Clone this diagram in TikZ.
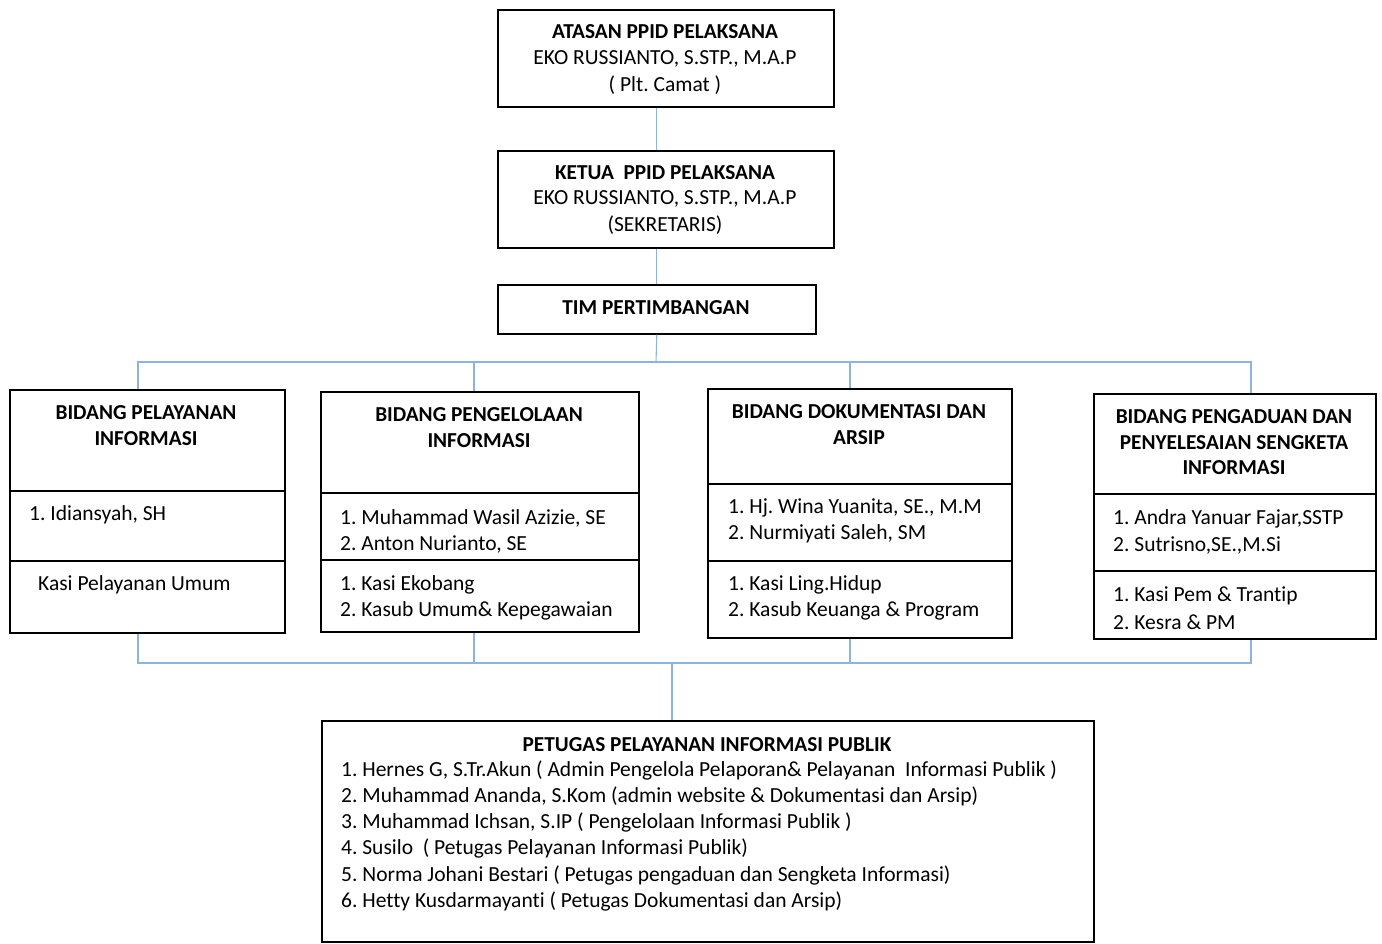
\documentclass[tikz,border=0pt]{standalone}
\usepackage{fontspec}
\setmainfont[Ligatures=NoCommon]{Carlito}
\definecolor{linkblue}{RGB}{141,179,226}
\frenchspacing
\begin{document}
\begin{tikzpicture}[x=1pt,y=-1pt,
  box/.style={draw=black,line width=1.6pt,inner sep=0,anchor=north west},
  divider/.style={draw=black,line width=1.6pt},
  conn/.style={draw=linkblue,line width=1.1pt},
  lbl/.style={font=\fontsize{21.5}{26}\selectfont,inner sep=0,anchor=west},
  ttl/.style={font=\fontsize{21.3}{26}\selectfont\bfseries,inner sep=0,anchor=center},
  ctr/.style={font=\fontsize{21.5}{26}\selectfont,inner sep=0,anchor=center}]
\useasboundingbox[fill=white] (0,0) rectangle (1382,943);
% boxes
\node[box,minimum width=336pt,minimum height=97pt] (atasan) at (497,9) {};
\node[box,minimum width=336pt,minimum height=97pt] (ketua) at (497,150) {};
\node[box,minimum width=318pt,minimum height=49pt] (tim) at (497,284) {};
\node[box,minimum width=275pt,minimum height=243pt] (b1) at (9,389) {};
\node[box,minimum width=318pt,minimum height=240pt] (b2) at (320,391) {};
\node[box,minimum width=304pt,minimum height=249pt] (b3) at (707,388) {};
\node[box,minimum width=282pt,minimum height=245pt] (b4) at (1093,393) {};
\node[box,minimum width=772pt,minimum height=221pt] (pub) at (321,720) {};
% dividers
\draw[divider] (b1.west |- 0,491) -- (b1.east |- 0,491);
\draw[divider] (b1.west |- 0,561) -- (b1.east |- 0,561);
\draw[divider] (b2.west |- 0,493) -- (b2.east |- 0,493);
\draw[divider] (b2.west |- 0,560) -- (b2.east |- 0,560);
\draw[divider] (b3.west |- 0,484) -- (b3.east |- 0,484);
\draw[divider] (b3.west |- 0,561) -- (b3.east |- 0,561);
\draw[divider] (b4.west |- 0,494) -- (b4.east |- 0,494);
\draw[divider] (b4.west |- 0,571) -- (b4.east |- 0,571);
% texts top
\node[ttl] (a1) at (665,32) {ATASAN PPID PELAKSANA};
\node[ctr] (a2) at (665,59) {EKO RUSSIANTO, S.STP., M.A.P};
\node[ctr] (a3) at (665,85) {( Plt. Camat )};
\node[ttl] (k1) at (665,173) {KETUA\ \ PPID PELAKSANA};
\node[ctr] (k2) at (665,199) {EKO RUSSIANTO, S.STP., M.A.P};
\node[ctr] (k3) at (665,225) {(SEKRETARIS)};
\node[ttl] (t1) at (656,308) {TIM PERTIMBANGAN};
% box 1
\node[ttl] (b1t1) at (146,413) {BIDANG PELAYANAN};
\node[ttl] (b1t2) at (146,439) {INFORMASI};
\node[lbl] (b1a) at (29,515) {1. Idiansyah, SH};
\node[lbl] (b1b) at (38,585) {Kasi Pelayanan Umum};
% box 2
\node[ttl] (b2t1) at (479,415) {BIDANG PENGELOLAAN};
\node[ttl] (b2t2) at (479,441) {INFORMASI};
\node[lbl] (b2a) at (340,518) {1. Muhammad Wasil Azizie, SE};
\node[lbl] (b2b) at (340,544) {2. Anton Nurianto, SE};
\node[lbl] (b2c) at (340,585) {1. Kasi Ekobang};
\node[lbl] (b2d) at (340,611) {2. Kasub Umum\& Kepegawaian};
% box 3
\node[ttl] (b3t1) at (859,412) {BIDANG DOKUMENTASI DAN};
\node[ttl] (b3t2) at (859,438) {ARSIP};
\node[lbl] (b3a) at (728,508) {1. Hj. Wina Yuanita, SE., M.M};
\node[lbl] (b3b) at (728,534) {2. Nurmiyati Saleh, SM};
\node[lbl] (b3c) at (728,585) {1. Kasi Ling.Hidup};
\node[lbl] (b3d) at (728,611) {2. Kasub Keuanga \& Program};
% box 4
\node[ttl] (b4t1) at (1234,417) {BIDANG PENGADUAN DAN};
\node[ttl] (b4t2) at (1234,443) {PENYELESAIAN SENGKETA};
\node[ttl] (b4t3) at (1234,468) {INFORMASI};
\node[lbl] (b4a) at (1113,519) {1. Andra Yanuar Fajar,SSTP};
\node[lbl] (b4b) at (1113,545) {2. Sutrisno,SE.,M.Si};
\node[lbl] (b4c) at (1113,596) {1. Kasi Pem \& Trantip};
\node[lbl] (b4d) at (1113,622) {2. Kesra \& PM};
% bottom box
\node[ttl] (pt) at (707,745) {PETUGAS PELAYANAN INFORMASI PUBLIK};
\node[lbl] (p1) at (341,770) {1. Hernes G, S.Tr.Akun ( Admin Pengelola Pelaporan\& Pelayanan\ \ Informasi Publik )};
\node[lbl] (p2) at (341,796) {2. Muhammad Ananda, S.Kom (admin website \& Dokumentasi dan Arsip)};
\node[lbl] (p3) at (341,822) {3. Muhammad Ichsan, S.IP ( Pengelolaan Informasi Publik )};
\node[lbl] (p4) at (341,848) {4. Susilo\ \ ( Petugas Pelayanan Informasi Publik)};
\node[lbl] (p5) at (341,875) {5. Norma Johani Bestari ( Petugas pengaduan dan Sengketa Informasi)};
\node[lbl] (p6) at (341,901) {6. Hetty Kusdarmayanti ( Petugas Dokumentasi dan Arsip)};
% connectors
\coordinate (hub) at (656,362);
\coordinate (h1) at (138,362);
\coordinate (h2) at (474,362);
\coordinate (h3) at (850,362);
\coordinate (h4) at (1251,362);
\coordinate (u1) at (138,663);
\coordinate (u2) at (474,663);
\coordinate (u3) at (850,663);
\coordinate (u4) at (1251,663);
\coordinate (um) at (672,663);
\draw[conn] (atasan.south -| tim.north) -- (ketua.north -| tim.north);
\draw[conn] (ketua.south -| tim.north) -- (tim.north);
\draw[conn] (tim.south) -- (hub);
\draw[conn] (b1.north -| h1) -- (h1) -- (h4) -- (b4.north -| h4);
\draw[conn] (h2) -- (b2.north -| h2);
\draw[conn] (h3) -- (b3.north -| h3);
\draw[conn] (b1.south -| u1) -- (u1) -- (u4) -- (b4.south -| u4);
\draw[conn] (b2.south -| u2) -- (u2);
\draw[conn] (b3.south -| u3) -- (u3);
\draw[conn] (um) -- (pub.north -| um);
\end{tikzpicture}
\end{document}
